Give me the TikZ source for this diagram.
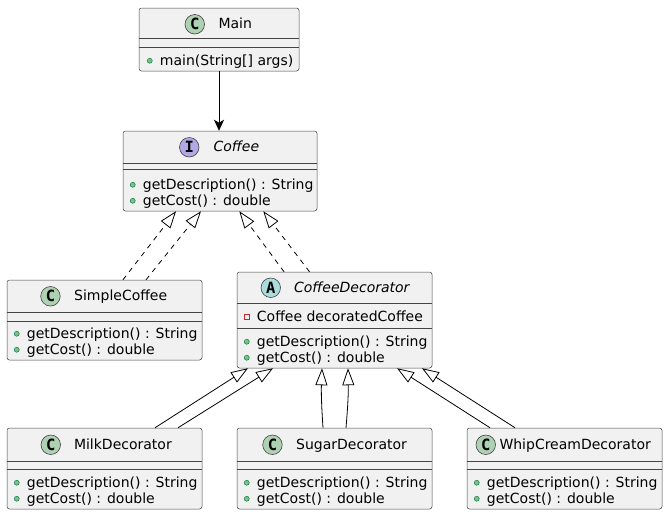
\documentclass[tikz,border=0pt]{standalone}
\usepackage{fontspec}
\setmainfont{DejaVu Sans}
\newfontfamily\iconfont{DejaVu Sans Mono}
\usetikzlibrary{arrows.meta,positioning}
\definecolor{boxfill}{HTML}{F1F1F1}
\definecolor{boxline}{HTML}{444444}
\definecolor{classgreen}{HTML}{ADD1B2}
\definecolor{ifacepurple}{HTML}{B4A7E5}
\definecolor{abstractcyan}{HTML}{A9DCDF}
\definecolor{pubfill}{HTML}{84BE84}
\definecolor{publine}{HTML}{038048}
\definecolor{privline}{HTML}{C82930}

\begin{document}
\begin{tikzpicture}[x=1pt, y=-1pt,
  font=\fontsize{14}{16}\selectfont,
  classbox/.style={draw=boxline, fill=boxfill, line width=0.5pt, rounded corners=2.5pt,
    inner sep=0pt, minimum width=195pt},
  sep/.style={draw=boxline, line width=0.5pt},
  icon/.style={circle, draw=boxline, line width=0.6pt, minimum size=19.5pt, inner sep=0pt,
    font=\iconfont\fontsize{15.5}{15.5}\selectfont\bfseries},
  cname/.style={anchor=base west, inner sep=0pt},
  member/.style={anchor=base west, inner sep=0pt},
  pub/.style={circle, draw=publine, fill=pubfill, line width=0.5pt, minimum size=5pt, inner sep=0pt},
  priv/.style={rectangle, draw=privline, line width=0.6pt, minimum size=5pt, inner sep=0pt},
  uses/.style={-{Stealth[length=11pt, width=10pt, inset=3pt]}, line width=0.8pt},
  realizes/.style={dash pattern=on 5pt off 5pt, -{Triangle[open, length=17pt, width=12pt]}, line width=0.8pt},
  extends/.style={-{Triangle[open, length=17pt, width=12pt]}, line width=0.8pt}
]
\useasboundingbox (0,0) rectangle (668,515);

% class boxes
\node[classbox, minimum width=160pt, minimum height=63pt] (main) at (219,39.5) {};
\node[classbox, minimum width=194pt, minimum height=80pt] (coffee) at (220,171) {};
\node[classbox, minimum height=80pt] (simple) at (104.5,320) {};
\node[classbox, minimum height=96pt] (deco) at (334.5,320) {};
\node[classbox, minimum height=81pt] (milk) at (104.5,468.5) {};
\node[classbox, minimum height=81pt] (sugar) at (334.5,468.5) {};
\node[classbox, minimum height=81pt] (whip) at (564.5,468.5) {};

% compartments
\foreach \cls/\first/\second in {main/30/39, coffee/32/38, simple/32/41, deco/31/56,
    milk/33/41, sugar/33/41, whip/33/41} {
  \draw[sep] ([yshift=-\first pt]\cls.north west) -- ([yshift=-\first pt]\cls.north east);
  \draw[sep] ([yshift=-\second pt]\cls.north west) -- ([yshift=-\second pt]\cls.north east);
}

% headers
\node[icon, fill=classgreen] (main-i) at ([shift={(56pt,-16.5pt)}]main.north west) {C};
\node[cname] (main-n) at ([xshift=13.5pt, yshift=-4.5pt]main-i.east) {Main};
\node[icon, fill=ifacepurple] (coffee-i) at ([shift={(66.5pt,-16.5pt)}]coffee.north west) {I};
\node[cname] (coffee-n) at ([xshift=14pt, yshift=-4.5pt]coffee-i.east) {\itshape Coffee};
\node[icon, fill=classgreen] (simple-i) at ([shift={(43.7pt,-16.5pt)}]simple.north west) {C};
\node[cname] (simple-n) at ([xshift=13.5pt, yshift=-4.5pt]simple-i.east) {SimpleCoffee};
\node[icon, fill=abstractcyan] (deco-i) at ([shift={(34pt,-16pt)}]deco.north west) {A};
\node[cname] (deco-n) at ([xshift=13pt, yshift=-5pt]deco-i.east) {\itshape CoffeeDecorator};
\node[icon, fill=classgreen] (milk-i) at ([shift={(44pt,-17pt)}]milk.north west) {C};
\node[cname] (milk-n) at ([xshift=13pt, yshift=-4.5pt]milk-i.east) {MilkDecorator};
\node[icon, fill=classgreen] (sugar-i) at ([shift={(35.7pt,-17pt)}]sugar.north west) {C};
\node[cname] (sugar-n) at ([xshift=13.5pt, yshift=-4.5pt]sugar-i.east) {SugarDecorator};
\node[icon, fill=classgreen] (whip-i) at ([shift={(19pt,-17pt)}]whip.north west) {C};
\node[cname] (whip-n) at ([xshift=3.5pt, yshift=-4.5pt]whip-i.east) {WhipCreamDecorator};

% members
\node[member] (main-m) at ([shift={(21pt,6pt)}]main.south west) {main(String[] args)};
\node[pub] at ([shift={(-10pt,4.5pt)}]main-m.base west) {};
\foreach \cls in {coffee, simple, deco, milk, sugar, whip} {
  \node[member] (\cls-m1) at ([shift={(20pt,22pt)}]\cls.south west) {getDescription() : String};
  \node[member] (\cls-m2) at ([shift={(20pt,6pt)}]\cls.south west) {getCost() : double};
  \node[pub] at ([shift={(-10pt,4.5pt)}]\cls-m1.base west) {};
  \node[pub] at ([shift={(-10pt,4.5pt)}]\cls-m2.base west) {};
}
\node[member] (deco-f) at ([shift={(20pt,-50pt)}]deco.north west) {Coffee decoratedCoffee};
\node[priv] at ([shift={(-10pt,4.5pt)}]deco-f.base west) {};

% relations
\draw[uses] (main.south) -- (main.south |- coffee.north);
\draw[realizes] ([xshift=18.5pt]simple.north) -- ([xshift=-44pt]coffee.south);
\draw[realizes] ([xshift=41.5pt]simple.north) -- ([xshift=-19pt]coffee.south);
\draw[realizes] ([xshift=-50.5pt]deco.north) -- ([xshift=19.3pt]coffee.south);
\draw[realizes] ([xshift=-25pt]deco.north) -- ([xshift=43.3pt]coffee.south);
\draw[extends] ([xshift=50.5pt]milk.north) -- ([xshift=-86.5pt]deco.south);
\draw[extends] ([xshift=73.5pt]milk.north) -- ([xshift=-61.5pt]deco.south);
\draw[extends] ([xshift=-11.5pt]sugar.north) to[bend left=3] ([xshift=-12.5pt]deco.south);
\draw[extends] ([xshift=11.5pt]sugar.north) to[bend right=3] ([xshift=13.5pt]deco.south);
\draw[extends] ([xshift=-74.5pt]whip.north) -- ([xshift=62.5pt]deco.south);
\draw[extends] ([xshift=-49.5pt]whip.north) -- ([xshift=87.5pt]deco.south);

\end{tikzpicture}
\end{document}
